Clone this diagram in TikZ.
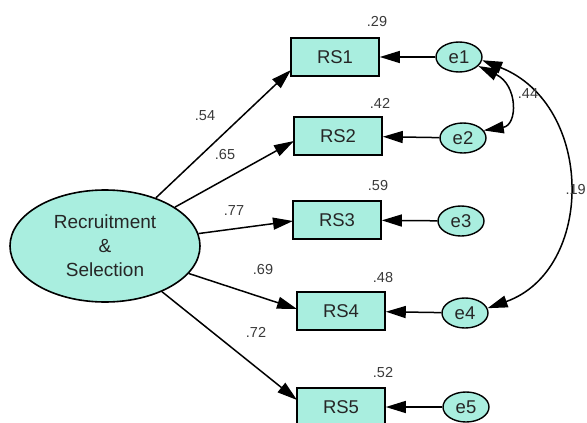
\documentclass[tikz,border=0pt]{standalone}
\usepackage{fontspec}
\setmainfont{Liberation Sans}
\usetikzlibrary{arrows.meta,shapes.geometric}
\definecolor{fillc}{HTML}{A9EEDF}
\definecolor{txt}{HTML}{262626}
\definecolor{lbl}{HTML}{3A3A3A}
\tikzset{
  ind/.style={draw=black, line width=1.6pt, fill=fillc, minimum width=88pt, minimum height=38pt, inner sep=0pt, text=txt, font=\fontsize{18.5}{22}\selectfont},
  err/.style={ellipse, draw=black, line width=1.4pt, fill=fillc, minimum width=46pt, minimum height=30pt, inner sep=0pt, text=txt, font=\fontsize{18.5}{22}\selectfont},
  lat/.style={ellipse, draw=black, line width=1.6pt, fill=fillc, minimum width=190pt, minimum height=112pt, inner sep=0pt, align=center, text=txt, font=\fontsize{19}{24}\selectfont},
  num/.style={text=lbl, inner sep=0pt, font=\fontsize{14.5}{16}\selectfont},
  arr/.style={line width=1.5pt, -{Triangle[length=20pt,width=12pt]}},
  cov/.style={line width=1.5pt, {Triangle[length=20pt,width=12pt]}-{Triangle[length=20pt,width=12pt]}},
}
\begin{document}
\begin{tikzpicture}[x=1pt,y=-1pt]
\clip (0,0) rectangle (587,423);
\fill[white] (0,0) rectangle (587,423);
\node[lat] (F) at (105,246) {Recruitment\\\&\\Selection};
\node[ind] (RS1) at (335,57) {RS1};
\node[ind] (RS2) at (338,136) {RS2};
\node[ind] (RS3) at (337,220) {RS3};
\node[ind] (RS4) at (341,311) {RS4};
\node[ind] (RS5) at (341,407) {RS5};
\node[err] (e1) at (459,57) {e1};
\node[err] (e2) at (463,138) {e2};
\node[err] (e3) at (461,221) {e3};
\node[err] (e4) at (465,313) {e4};
\node[err] (e5) at (466,407) {e5};
\coordinate (t1) at (291,70);
\coordinate (t2) at (294,141);
\coordinate (t3) at (293,221);
\coordinate (t4) at (297,309);
\coordinate (t5) at (297,400);
\draw[arr] (F) -- (t1);
\draw[arr] (F) -- (t2);
\draw[arr] (F) -- (t3);
\draw[arr] (F) -- (t4);
\draw[arr] (F) -- (t5);
\draw[arr] (e1) -- (RS1);
\draw[arr] (e2) -- (RS2);
\draw[arr] (e3) -- (RS3);
\draw[arr] (e4) -- (RS4);
\draw[arr] (e5) -- (RS5);
\draw[cov] (e1.-25) .. controls (518,85) and (518,125) .. (e2.20);
\draw[cov] (e1.-8) .. controls (595,105) and (595,270) .. (e4.12);
\node[num] (l1) at (205,116) {.54};
\node[num] (l2) at (225,155) {.65};
\node[num] (l3) at (234,211) {.77};
\node[num] (l4) at (263,270) {.69};
\node[num] (l5) at (256,332) {.72};
\node[num] (r1) at (377,22) {.29};
\node[num] (r2) at (380,103) {.42};
\node[num] (r3) at (378,186) {.59};
\node[num] (r4) at (383,278) {.48};
\node[num] (r5) at (383,373) {.52};
\node[num] (c1) at (528,94) {.44};
\node[num, anchor=east] (c2) at (586,190) {.19};
\end{tikzpicture}
\end{document}
